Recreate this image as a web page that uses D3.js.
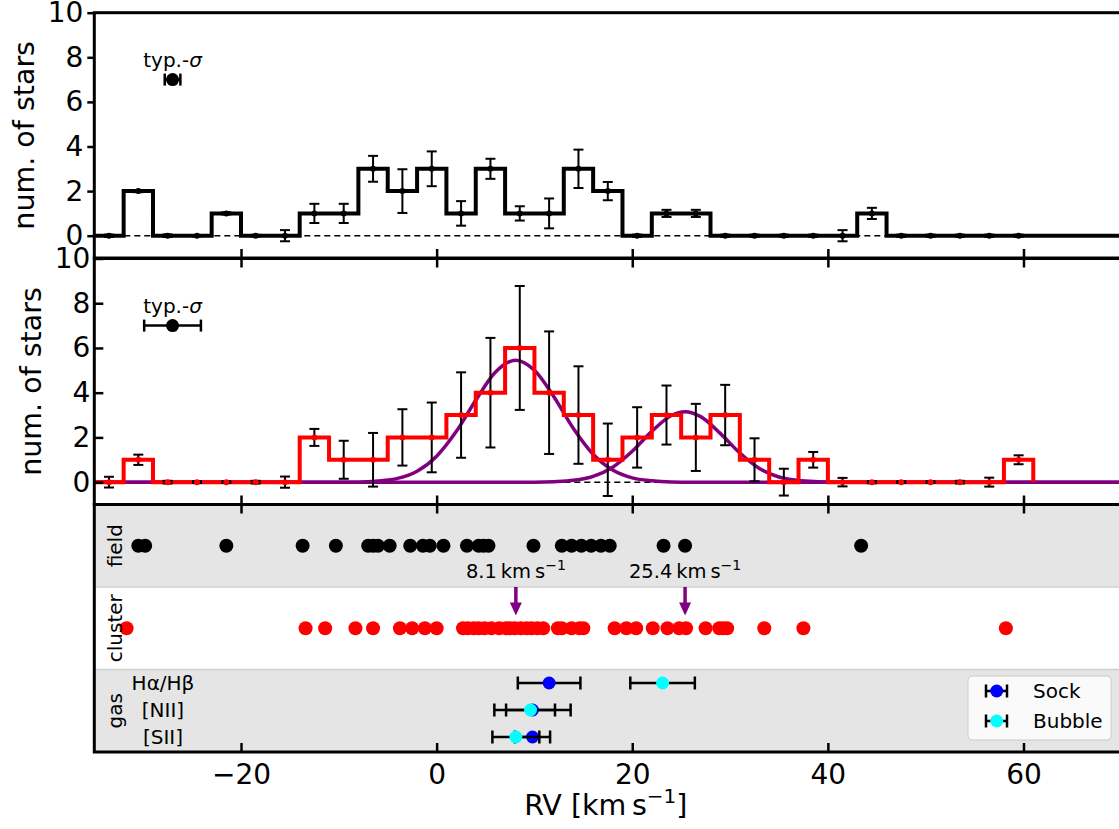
<!DOCTYPE html>
<html>
<head>
<meta charset="utf-8">
<script src="https://cdn.jsdelivr.net/npm/d3@7"></script>
<style>
  body { margin: 0; background: #fff; }
  text { font-family: "DejaVu Sans", sans-serif; }
</style>
</head>
<body>
<div id="chart"></div>
<script>
var width = 1119;
var height = 829;

// histogram bins (3 km/s wide), centres
var binCenters = [-33.5, -30.5, -27.5, -24.5, -21.5, -18.5, -15.5, -12.5, -9.5, -6.5, -3.5, -0.5,
  2.5, 5.5, 8.5, 11.5, 14.5, 17.5, 20.5, 23.5, 26.5, 29.5, 32.5, 35.5, 38.5, 41.5, 44.5,
  47.5, 50.5, 53.5, 56.5, 59.5];

// field stars histogram
var fieldCounts = [0, 2, 0, 0, 1, 0, 0, 1, 1, 3, 2, 3, 1, 3, 1, 1, 3, 2, 0, 1, 1, 0, 0, 0, 0, 0, 1, 0, 0, 0, 0, 0];
var fieldErr = [0.05, 0.05, 0.06, 0.03, 0.05, 0.04, 0.25, 0.43, 0.43, 0.58, 0.98, 0.78, 0.55, 0.45, 0.32, 0.67,
  0.86, 0.41, 0.05, 0.16, 0.16, 0.05, 0.05, 0.05, 0.05, 0.25, 0.25, 0.05, 0.05, 0.05, 0.05, 0.05];

// cluster stars histogram
var clusterCounts = [0, 1, 0, 0, 0, 0, 0, 2, 1, 1, 2, 2, 3, 4, 6, 4, 3, 1, 2, 3, 2, 3, 1, 0, 1, 0, 0, 0, 0, 0, 0, 1];
var clusterErr = [0.24, 0.23, 0.06, 0.04, 0.04, 0.06, 0.25, 0.38, 0.85, 1.2, 1.26, 1.56, 1.91, 2.45, 2.77, 2.74,
  2.18, 1.62, 1.35, 1.32, 1.5, 1.35, 0.96, 0.6, 0.35, 0.19, 0.05, 0.04, 0.04, 0.06, 0.2, 0.2];

// individual RVs
var fieldRV = [-30.5, -29.8, -21.5, -13.7, -10.3, -7.0, -6.5, -6.0, -4.8, -2.7, -1.4, -0.7, 0.7,
  3.1, 4.3, 4.8, 5.3, 9.9, 12.8, 13.8, 14.8, 15.8, 16.8, 17.7, 23.2, 25.4, 43.4];
var clusterRV = [-31.7, -13.4, -11.4, -8.3, -6.5, -3.75, -2.5, -1.2, 0.0, 2.7, 3.2, 3.8, 4.3, 4.9, 5.6, 6.4,
  7.1, 7.5, 8.0, 8.6, 9.2, 9.7, 10.3, 10.9, 12.4, 12.8, 13.8, 14.6, 15.0, 18.2, 19.4, 20.4,
  22.1, 23.6, 24.8, 25.5, 27.5, 28.9, 29.3, 29.7, 33.5, 37.5, 58.2];

// the two gaussian components
var gauss1X = [-35, -8, -6, -4, -2, 0, 2, 4, 6, 8.1, 10, 12, 14, 16, 18, 20, 22, 24, 26, 70];
var gauss1Y = [0, 0, 0.05, 0.17, 0.49, 1.16, 2.26, 3.66, 4.91, 5.45, 5.0, 3.81, 2.39, 1.25, 0.54, 0.19, 0.06, 0.01, 0, 0];
var gauss2X = [-35, 10, 12, 14, 16, 18, 20, 22, 24, 25.4, 27, 29, 31, 33, 35, 37, 39, 41, 70];
var gauss2Y = [0, 0, 0.02, 0.08, 0.26, 0.67, 1.38, 2.27, 2.98, 3.15, 2.93, 2.18, 1.3, 0.61, 0.23, 0.07, 0.02, 0, 0];
var peakRV = [8.1, 25.4];

// gas velocities
var gasLines = ["Hα/Hβ", "[NII]", "[SII]"];
var sockRV = [11.5, 9.8, 9.8];
var sockErr = [3.2, 3.9, 1.8];
var bubbleRV = [23.1, 9.6, 8.1];
var bubbleErr = [3.3, 2.5, 2.4];

// typical uncertainty
var typSigmaField = 0.8;
var typSigmaCluster = 2.9;

var xTicks = [-20, 0, 20, 40, 60];
var yTicks = [0, 2, 4, 6, 8, 10];
var groups = ["field", "cluster", "gas"];

var x = d3.scaleLinear().domain([-35, 70]).range([94.3, 1121.3]);
var yTop = d3.scaleLinear().domain([-1, 10]).range([258, 12.7]);
var yMid = d3.scaleLinear().domain([-1, 10]).range([504.5, 258.5]);
var yBand = d3.scaleBand().domain(groups).range([504.5, 752]);
var yGas = d3.scalePoint().domain(gasLines).range([683, 737]);

var svg = d3.select("#chart").append("svg")
  .attr("width", width)
  .attr("height", height)
  .style("background", "#fff");

var binW = binCenters[1] - binCenters[0];

// ---------- bottom panel background bands ----------
svg.selectAll("rect.band")
  .data(groups)
  .enter().append("rect")
  .attr("class", "band")
  .attr("x", x(-35))
  .attr("y", d => yBand(d))
  .attr("width", x(70) - x(-35))
  .attr("height", yBand.bandwidth())
  .attr("fill", d => d == "cluster" ? "#ffffff" : "#e5e5e5");

svg.selectAll("line.divider")
  .data(groups.slice(1))
  .enter().append("line")
  .attr("x1", x(-35)).attr("x2", x(70))
  .attr("y1", d => yBand(d)).attr("y2", d => yBand(d))
  .attr("stroke", "#d0d0d0")
  .attr("stroke-width", 1.5);

// ---------- helpers ----------
function stepPoints(counts, tail) {
  var pts = binCenters.map((c, i) => [c - binW / 2, counts[i]]);
  pts.push([binCenters[binCenters.length - 1] + binW / 2, tail[0]]);
  if (tail.length > 1) pts.push([tail[1], tail[0]]);
  return pts;
}

function drawHistErrors(g, y, counts, errs, dotColor) {
  var d = binCenters.map((c, i) => ({ c: c, n: counts[i], e: errs[i] }));
  g.selectAll("line.ev").data(d).enter().append("line")
    .attr("x1", d => x(d.c)).attr("x2", d => x(d.c))
    .attr("y1", d => y(d.n - d.e)).attr("y2", d => y(d.n + d.e))
    .attr("stroke", "#000").attr("stroke-width", 2);
  [-1, 1].forEach(function (s) {
    g.selectAll("line.cap" + s).data(d).enter().append("line")
      .attr("x1", d => x(d.c) - 5).attr("x2", d => x(d.c) + 5)
      .attr("y1", d => y(d.n + s * d.e)).attr("y2", d => y(d.n + s * d.e))
      .attr("stroke", "#000").attr("stroke-width", 2);
  });
  g.selectAll("circle.pt").data(d).enter().append("circle")
    .attr("cx", d => x(d.c)).attr("cy", d => y(d.n))
    .attr("r", 3).attr("fill", dotColor);
}

function hErrorbar(g, cx, cy, err, color, r, capH) {
  g.append("line")
    .attr("x1", x(cx - err)).attr("x2", x(cx + err))
    .attr("y1", cy).attr("y2", cy)
    .attr("stroke", "#000").attr("stroke-width", 2.5);
  [cx - err, cx + err].forEach(function (v) {
    g.append("line")
      .attr("x1", x(v)).attr("x2", x(v))
      .attr("y1", cy - capH).attr("y2", cy + capH)
      .attr("stroke", "#000").attr("stroke-width", 2.5);
  });
  g.append("circle").attr("cx", x(cx)).attr("cy", cy).attr("r", r).attr("fill", color);
}

function typLabel(g, cy) {
  var t = g.append("text")
    .attr("x", x(-27)).attr("y", cy - 13)
    .attr("text-anchor", "middle")
    .attr("font-size", "20px")
    .text("typ.-");
  t.append("tspan").attr("font-style", "italic").text("σ");
}

// ---------- top panel (field) ----------
var topPanel = svg.append("g");
topPanel.append("line")
  .attr("x1", x(-35)).attr("x2", x(70))
  .attr("y1", yTop(0)).attr("y2", yTop(0))
  .attr("stroke", "#000").attr("stroke-width", 1.5)
  .attr("stroke-dasharray", "6,4");

topPanel.append("path")
  .datum(stepPoints(fieldCounts, [0, 70]))
  .attr("d", d3.line().x(d => x(d[0])).y(d => yTop(d[1])).curve(d3.curveStepAfter))
  .attr("fill", "none").attr("stroke", "#000").attr("stroke-width", 4);

drawHistErrors(topPanel, yTop, fieldCounts, fieldErr, "#000");
hErrorbar(topPanel, -27, yTop(7), typSigmaField, "#000", 6.5, 6);
typLabel(topPanel, yTop(7));

// ---------- middle panel (cluster) ----------
var midPanel = svg.append("g");
midPanel.append("line")
  .attr("x1", x(-35)).attr("x2", x(70))
  .attr("y1", yMid(0)).attr("y2", yMid(0))
  .attr("stroke", "#000").attr("stroke-width", 1.5)
  .attr("stroke-dasharray", "6,4");

var gline = d3.line().x(d => x(d[0])).y(d => yMid(d[1])).curve(d3.curveMonotoneX);
[[gauss1X, gauss1Y], [gauss2X, gauss2Y]].forEach(function (gs) {
  midPanel.append("path")
    .datum(gs[0].map((v, i) => [v, gs[1][i]]))
    .attr("d", gline)
    .attr("fill", "none").attr("stroke", "purple").attr("stroke-width", 3.5);
});

midPanel.append("path")
  .datum(stepPoints(clusterCounts, [0]))
  .attr("d", d3.line().x(d => x(d[0])).y(d => yMid(d[1])).curve(d3.curveStepAfter))
  .attr("fill", "none").attr("stroke", "red").attr("stroke-width", 4);

drawHistErrors(midPanel, yMid, clusterCounts, clusterErr, "red");
hErrorbar(midPanel, -27, yMid(7), typSigmaCluster, "#000", 6.5, 6);
typLabel(midPanel, yMid(7));

// ---------- bottom panel (individual stars & gas) ----------
var botPanel = svg.append("g");
botPanel.selectAll("circle.field").data(fieldRV).enter().append("circle")
  .attr("cx", d => x(d)).attr("cy", yBand("field") + yBand.bandwidth() / 2)
  .attr("r", 7).attr("fill", "#000");
botPanel.selectAll("circle.cluster").data(clusterRV).enter().append("circle")
  .attr("cx", d => x(d)).attr("cy", yBand("cluster") + yBand.bandwidth() / 2)
  .attr("r", 7).attr("fill", "red");

// arrows at the fitted peaks
peakRV.forEach(function (p) {
  var y0 = yBand("cluster"), tip = y0 + 28.5;
  botPanel.append("line")
    .attr("x1", x(p)).attr("x2", x(p))
    .attr("y1", y0).attr("y2", tip - 10)
    .attr("stroke", "purple").attr("stroke-width", 3.5);
  botPanel.append("path")
    .attr("d", "M" + (x(p) - 6) + "," + (tip - 13) + "L" + (x(p) + 6) + "," + (tip - 13) + "L" + x(p) + "," + tip + "Z")
    .attr("fill", "purple");
  var t = botPanel.append("text")
    .attr("x", x(p)).attr("y", y0 - 9)
    .attr("text-anchor", "middle")
    .attr("font-size", "19.5px")
    .text(p.toFixed(1) + "\u2009km\u2009s");
  t.append("tspan").attr("dy", -8).attr("font-size", "14px").text("−1");
});

// gas rows
gasLines.forEach(function (name, i) {
  var cy = yGas(name);
  hErrorbar(botPanel, sockRV[i], cy, sockErr[i], "#0000ff", 6.5, 6.5);
  hErrorbar(botPanel, bubbleRV[i], cy, bubbleErr[i], "#00ffff", 6.5, 6.5);
  botPanel.append("text")
    .attr("x", 163).attr("y", cy + 7)
    .attr("text-anchor", "middle")
    .attr("font-size", "20px")
    .text(name);
});

groups.forEach(function (gname) {
  botPanel.append("text")
    .attr("transform", "translate(122," + (yBand(gname) + yBand.bandwidth() / 2) + ") rotate(-90)")
    .attr("text-anchor", "middle")
    .attr("font-size", "20px")
    .text(gname);
});

// legend
var legend = svg.append("g");
legend.append("rect")
  .attr("x", 968).attr("y", 676)
  .attr("width", 143).attr("height", 64)
  .attr("rx", 4)
  .attr("fill", "#fff").attr("fill-opacity", 0.8)
  .attr("stroke", "#cccccc").attr("stroke-width", 1);
[["Sock", "#0000ff"], ["Bubble", "#00ffff"]].forEach(function (e, i) {
  var cy = 691 + i * 30;
  legend.append("line")
    .attr("x1", 986).attr("x2", 1007).attr("y1", cy).attr("y2", cy)
    .attr("stroke", "#000").attr("stroke-width", 2.5);
  [986, 1007].forEach(function (cx) {
    legend.append("line").attr("x1", cx).attr("x2", cx).attr("y1", cy - 6.5).attr("y2", cy + 6.5)
      .attr("stroke", "#000").attr("stroke-width", 2.5);
  });
  legend.append("circle").attr("cx", 996.7).attr("cy", cy).attr("r", 6.5).attr("fill", e[1]);
  legend.append("text")
    .attr("x", 1033).attr("y", cy + 7)
    .attr("font-size", "20px")
    .text(e[0]);
});

// ---------- axes & spines ----------
function styleAxis(g) {
  g.select(".domain").remove();
  g.selectAll(".tick line").attr("stroke", "#000").attr("stroke-width", 2.5);
  g.selectAll(".tick text").attr("fill", "#000").attr("font-size", "28px")
    .attr("font-family", "DejaVu Sans, sans-serif");
}

// top panel: y ticks outward, x ticks only at bottom (inward)
svg.append("g").attr("transform", "translate(" + x(-35) + ",0)")
  .call(d3.axisLeft(yTop).tickValues(yTicks).tickSize(7).tickPadding(4)).call(styleAxis);
svg.append("g").attr("transform", "translate(0," + yTop(-1) + ")")
  .call(d3.axisBottom(x).tickValues(xTicks).tickSize(-9).tickFormat("")).call(styleAxis);

// middle panel: everything inward
svg.append("g").attr("transform", "translate(" + x(-35) + ",0)")
  .call(d3.axisLeft(yMid).tickValues(yTicks).tickSize(-9).tickPadding(4)).call(styleAxis);
svg.append("g").attr("transform", "translate(0," + yMid(10) + ")")
  .call(d3.axisTop(x).tickValues(xTicks).tickSize(-9).tickFormat("")).call(styleAxis);
svg.append("g").attr("transform", "translate(0," + yMid(-1) + ")")
  .call(d3.axisBottom(x).tickValues(xTicks).tickSize(-9).tickFormat("")).call(styleAxis);

// bottom panel
svg.append("g").attr("transform", "translate(0," + yBand.range()[0] + ")")
  .call(d3.axisTop(x).tickValues(xTicks).tickSize(-9).tickFormat("")).call(styleAxis);
svg.append("g").attr("transform", "translate(0," + yBand.range()[1] + ")")
  .call(d3.axisBottom(x).tickValues(xTicks).tickSize(-9).tickPadding(12)).call(styleAxis);

// spines
[[yTop(10), yTop(-1)], [yMid(10), yMid(-1)], yBand.range()].forEach(function (r) {
  svg.append("rect")
    .attr("x", x(-35)).attr("y", r[0])
    .attr("width", x(70) - x(-35)).attr("height", r[1] - r[0])
    .attr("fill", "none").attr("stroke", "#000").attr("stroke-width", 3);
});

// axis labels
[[34, (yTop(10) + yTop(-1)) / 2], [41, (yMid(10) + yMid(-1)) / 2]].forEach(function (p) {
  svg.append("text")
    .attr("transform", "translate(" + p[0] + "," + p[1] + ") rotate(-90)")
    .attr("text-anchor", "middle")
    .attr("font-size", "28.5px")
    .text("num. of stars");
});

var xl = svg.append("text")
  .attr("x", (x(-35) + x(70)) / 2 - 2).attr("y", 815)
  .attr("text-anchor", "middle")
  .attr("font-size", "28.5px")
  .text("RV [km\u2009s");
xl.append("tspan").attr("dy", -12).attr("font-size", "20px").text("−1");
xl.append("tspan").attr("dy", 12).text("]");
</script>
</body>
</html>
